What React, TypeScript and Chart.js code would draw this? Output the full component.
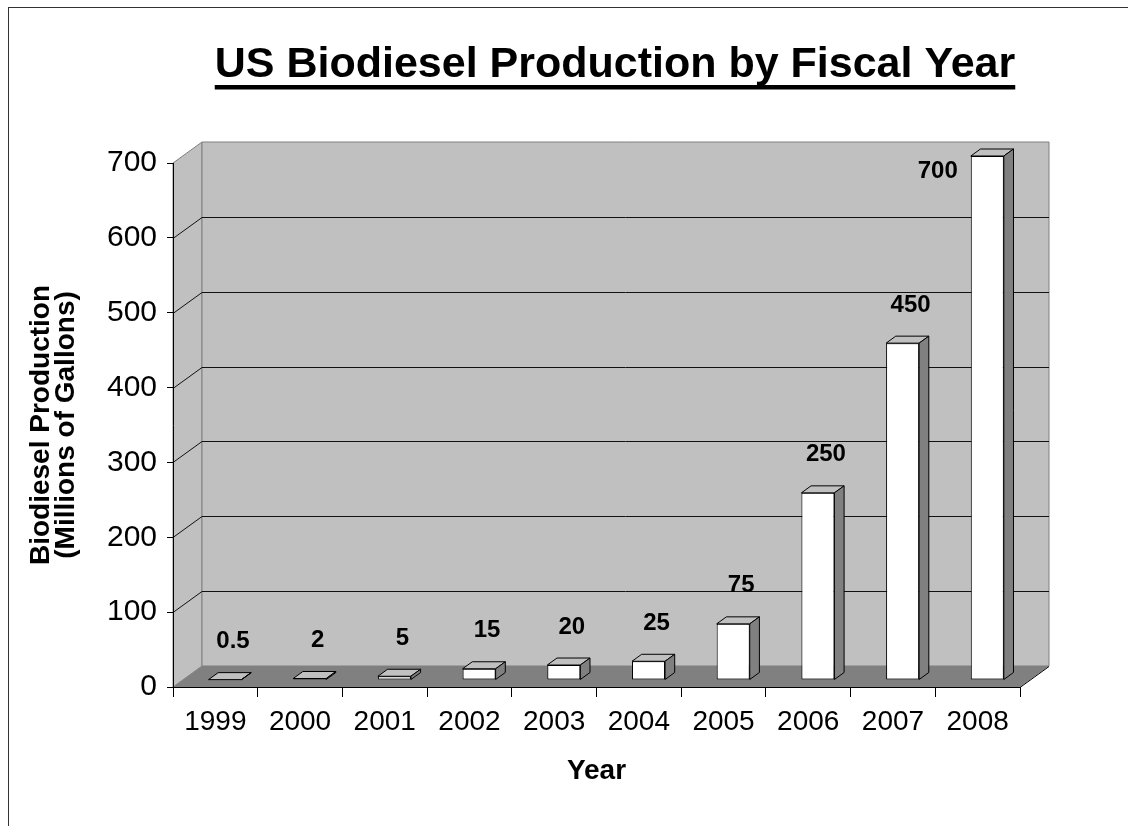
import React, { useEffect, useRef } from "react";
import { Chart, registerables } from "chart.js";

Chart.register(...registerables);

// ---------------- data ----------------
const chartTitle = "US Biodiesel Production by Fiscal Year";
const years = ["1999", "2000", "2001", "2002", "2003", "2004", "2005", "2006", "2007", "2008"];
const production = [0.5, 2, 5, 15, 20, 25, 75, 250, 450, 700];
const valueLabels = ["0.5", "2", "5", "15", "20", "25", "75", "250", "450", "700"];
const yTitleLines = ["Biodiesel Production", "(Millions of Gallons)"];
const xTitle = "Year";
const yMin = 0;
const yMax = 700;
const yStep = 100;

// ---------------- style ----------------
const FONT = "'Liberation Sans', Arial, Helvetica, sans-serif";
const WALL = "#C0C0C0";
const FLOOR = "#808080";
const EDGE = "#808080";
const DEPTH_X = 29;
const DEPTH_Y = -21;
const BAR_FRONT = 1 / 3;
const BAR_DEPTH = 1 / 3;

type Pt = [number, number];

function poly(ctx: CanvasRenderingContext2D, pts: Pt[], fill: string | null, stroke: string | null) {
  ctx.beginPath();
  ctx.moveTo(pts[0][0], pts[0][1]);
  for (let i = 1; i < pts.length; i++) ctx.lineTo(pts[i][0], pts[i][1]);
  ctx.closePath();
  if (fill) {
    ctx.fillStyle = fill;
    ctx.fill();
  }
  if (stroke) {
    ctx.strokeStyle = stroke;
    ctx.lineWidth = 1;
    ctx.stroke();
  }
}

const threeDPlugin = {
  id: "threeD",
  beforeDraw(chart: any) {
    const { ctx, chartArea: a, scales } = chart;
    const ys = scales.y;
    ctx.save();
    // outer frame
    ctx.strokeStyle = "#333";
    ctx.lineWidth = 1;
    ctx.strokeRect(8.5, 7.5, 3000, 3000);

    const L = a.left;
    const R = a.right;
    const T = ys.getPixelForValue(yMax);
    const B = ys.getPixelForValue(yMin);
    const dx = DEPTH_X;
    const dy = DEPTH_Y;
    // side wall
    poly(ctx, [[L, T], [L + dx, T + dy], [L + dx, B + dy], [L, B]], WALL, EDGE);
    // back wall
    poly(ctx, [[L + dx, T + dy], [R + dx, T + dy], [R + dx, B + dy], [L + dx, B + dy]], WALL, EDGE);
    // gridlines on walls
    ctx.strokeStyle = "#111";
    ctx.lineWidth = 1;
    for (let v = yMin + yStep; v < yMax; v += yStep) {
      const py = Math.round(ys.getPixelForValue(v)) + 0.5;
      ctx.beginPath();
      ctx.moveTo(L, py);
      ctx.lineTo(L + dx, py + dy);
      ctx.lineTo(R + dx, py + dy);
      ctx.stroke();
    }
    // floor
    poly(ctx, [[L, B], [L + dx, B + dy], [R + dx, B + dy], [R, B]], FLOOR, null);
    ctx.strokeStyle = "#000";
    ctx.beginPath();
    ctx.moveTo(R, B + 0.5);
    ctx.lineTo(R + dx, B + dy + 0.5);
    ctx.stroke();
    ctx.restore();
  },
  beforeDatasetsDraw(chart: any) {
    chart.ctx.save();
    chart.ctx.translate(DEPTH_X * BAR_FRONT, DEPTH_Y * BAR_FRONT);
  },
  afterDatasetsDraw(chart: any) {
    const { ctx, chartArea: a, scales } = chart;
    const meta = chart.getDatasetMeta(0);
    const bx = DEPTH_X * BAR_DEPTH;
    const by = DEPTH_Y * BAR_DEPTH;
    meta.data.forEach((el: any) => {
      const { x, y, base, width } = el.getProps(["x", "y", "base", "width"], true);
      const l = x - width / 2;
      const r = x + width / 2;
      poly(ctx, [[l, y], [r, y], [r + bx, y + by], [l + bx, y + by]], WALL, "#000");
      poly(ctx, [[r, y], [r + bx, y + by], [r + bx, base + by], [r, base]], FLOOR, "#000");
    });
    ctx.restore();

    // value labels
    const tx = DEPTH_X * BAR_FRONT;
    const ty = DEPTH_Y * BAR_FRONT;
    const wallTop = scales.y.getPixelForValue(yMax) + DEPTH_Y;
    ctx.save();
    ctx.font = `bold 24px ${FONT}`;
    ctx.fillStyle = "#000";
    ctx.textBaseline = "middle";
    meta.data.forEach((el: any, i: number) => {
      const { x, y, width } = el.getProps(["x", "y", "width"], true);
      let lx = x + tx + 8;
      let ly = y + ty - 38;
      if (ly - 12 < wallTop) {
        ctx.textAlign = "right";
        lx = x + tx - width / 2 - 13;
        ly = y + ty + 15;
      } else {
        ctx.textAlign = "center";
      }
      ctx.fillText(valueLabels[i], lx, ly);
    });
    ctx.restore();
  },
  afterDraw(chart: any) {
    const { ctx } = chart;
    ctx.save();
    ctx.font = `bold 43px ${FONT}`;
    ctx.fillStyle = "#000";
    ctx.textAlign = "center";
    ctx.textBaseline = "alphabetic";
    const cx = 615;
    ctx.fillText(chartTitle, cx, 77);
    const w = ctx.measureText(chartTitle).width;
    ctx.fillRect(cx - w / 2, 85, w, 4.5);
    ctx.restore();
  },
};

export default function App() {
  const ref = useRef<HTMLCanvasElement | null>(null);

  useEffect(() => {
    if (!ref.current) return;
    const chart = new Chart(ref.current, {
      type: "bar",
      data: {
        labels: years,
        datasets: [
          {
            data: production,
            backgroundColor: "#FFFFFF",
            borderColor: "#000000",
            borderWidth: 1,
            borderSkipped: false,
            categoryPercentage: 1,
            barPercentage: 0.39,
            clip: false,
          } as any,
        ],
      },
      options: {
        animation: false,
        responsive: false,
        devicePixelRatio: 1,
        layout: { padding: { top: 163, right: 108, bottom: 0, left: 0 } },
        plugins: {
          legend: { display: false },
          title: { display: false },
          tooltip: { enabled: false },
        },
        scales: {
          x: {
            type: "category",
            offset: true,
            grid: {
              offset: true,
              drawOnChartArea: false,
              drawTicks: true,
              tickLength: 10,
              color: "#000",
              tickColor: "#000",
            },
            border: { display: true, color: "#000", width: 1 },
            ticks: {
              color: "#000",
              font: { family: FONT, size: 28 },
              padding: 8,
              maxRotation: 0,
              autoSkip: false,
            },
            title: {
              display: true,
              text: xTitle,
              color: "#000",
              font: { family: FONT, size: 28, weight: "bold" },
              padding: { top: 0, bottom: 38 },
            },
            afterFit(scale: any) {
              scale.height = 139;
            },
          },
          y: {
            min: yMin,
            max: yMax,
            grid: {
              drawOnChartArea: false,
              drawTicks: true,
              tickLength: 6,
              color: "#000",
              tickColor: "#000",
            },
            border: { display: true, color: "#000", width: 1 },
            ticks: {
              stepSize: yStep,
              color: "#000",
              font: { family: FONT, size: 30 },
              padding: 10,
            },
            title: {
              display: true,
              text: yTitleLines,
              color: "#000",
              font: { family: FONT, size: 28, weight: "bold", lineHeight: 0.92 },
              padding: { top: 28, bottom: 0 },
            },
            afterFit(scale: any) {
              scale.width = 173;
            },
          },
        },
      } as any,
      plugins: [threeDPlugin],
    });
    return () => chart.destroy();
  }, []);

  return (
    <div style={{ position: "absolute", left: 0, top: 0, width: 1128, height: 826, background: "#fff" }}>
      <canvas ref={ref} width={1128} height={826} style={{ display: "block" }} />
    </div>
  );
}
